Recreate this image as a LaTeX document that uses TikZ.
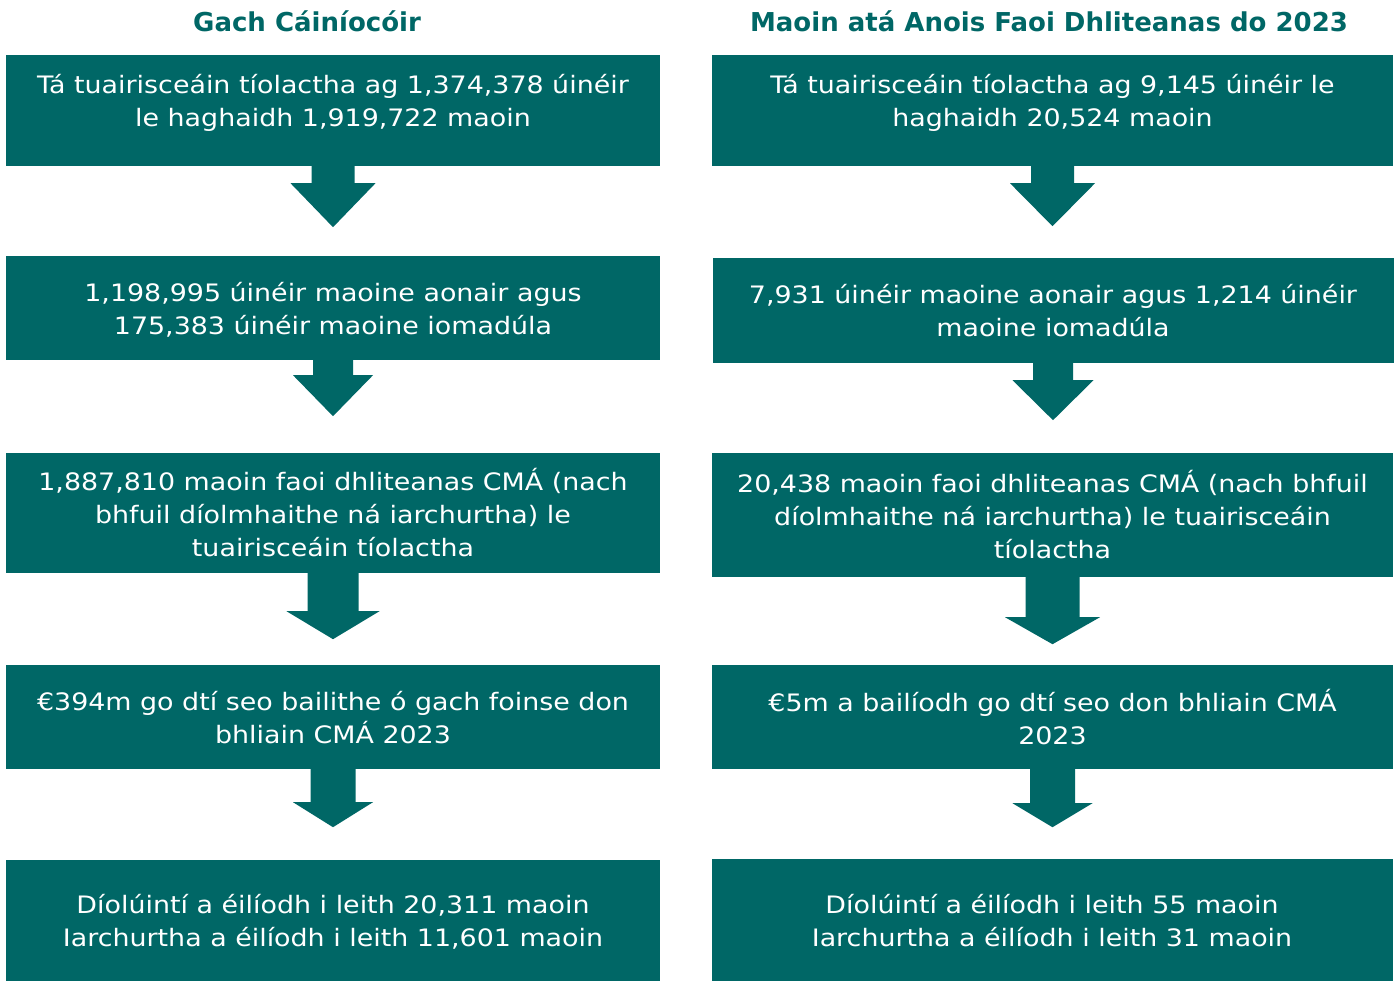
\documentclass[tikz,border=0pt]{standalone}
\usepackage{fontspec}
\setmainfont{DejaVu Sans}
\newfontfamily\bodyfont[FakeStretch=1.12]{DejaVu Sans}
\usepackage{xcolor}
\usepackage{tikz}
\usetikzlibrary{calc}
\definecolor{tealbox}{HTML}{006766}
\definecolor{bg}{HTML}{FFFFFF}
\tikzset{
  box/.style={fill=tealbox, text=white, align=center, inner sep=0pt,
    font=\bodyfont\fontsize{24}{33}\selectfont},
  boxl/.style={box, minimum width=654pt},
  boxr/.style={box, minimum width=681pt},
  toprow/.style={text depth=20pt},
  lowtext/.style={text depth=#1},
  head/.style={text=tealbox, font=\fontsize{26}{30}\selectfont\bfseries},
}
% block arrow below a box: box, half shaft, half head, head offset, tip offset
\newcommand{\blkarrow}[5]{%
  \fill[tealbox] ($(#1.south)+(-#2,0)$) -- ($(#1.south)+(-#2,#4)$)
    -- ($(#1.south)+(-#3,#4)$) -- ($(#1.south)+(0,#5)$)
    -- ($(#1.south)+(#3,#4)$) -- ($(#1.south)+(#2,#4)$)
    -- ($(#1.south)+(#2,0)$) -- cycle;}

\begin{document}
\begin{tikzpicture}[x=1pt, y=-1pt]
  \useasboundingbox[fill=bg] (0,0) rectangle (1400,982);
  % headings
  \node[head] (hl) at (307,21) {Gach Cáiníocóir};
  \node[head] (hr) at (1049,21) {Maoin atá Anois Faoi Dhliteanas do 2023};
  % left column
  \node[boxl, toprow, minimum height=111pt] (l1) at (333,110.5)
    {Tá tuairisceáin tíolactha ag 1,374,378 úinéir\\le haghaidh 1,919,722 maoin};
  \node[boxl, lowtext=-5pt, minimum height=104pt] (l2) at (333,308)
    {1,198,995 úinéir maoine aonair agus\\175,383 úinéir maoine iomadúla};
  \node[boxl, minimum height=120pt] (l3) at (333,513)
    {1,887,810 maoin faoi dhliteanas CMÁ (nach\\bhfuil díolmhaithe ná iarchurtha) le\\tuairisceáin tíolactha};
  \node[boxl, lowtext=-3pt, minimum height=104pt] (l4) at (333,717)
    {€394m go dtí seo bailithe ó gach foinse don\\bhliain CMÁ 2023};
  \node[boxl, lowtext=-7pt, minimum height=121pt] (l5) at (333,920.5)
    {Díolúintí a éilíodh i leith 20,311 maoin\\Iarchurtha a éilíodh i leith 11,601 maoin};
  % right column
  \node[boxr, toprow, minimum height=111pt] (r1) at (1052.5,110.5)
    {Tá tuairisceáin tíolactha ag 9,145 úinéir le\\haghaidh 20,524 maoin};
  \node[boxr, lowtext=-4pt, minimum height=105pt] (r2) at (1053,310.5)
    {7,931 úinéir maoine aonair agus 1,214 úinéir\\maoine iomadúla};
  \node[boxr, minimum height=124pt] (r3) at (1052.5,515)
    {20,438 maoin faoi dhliteanas CMÁ (nach bhfuil\\díolmhaithe ná iarchurtha) le tuairisceáin\\tíolactha};
  \node[boxr, minimum height=104pt] (r4) at (1052.5,717)
    {€5m a bailíodh go dtí seo don bhliain CMÁ\\2023};
  \node[boxr, lowtext=-7pt, minimum height=122pt] (r5) at (1052,920)
    {Díolúintí a éilíodh i leith 55 maoin\\Iarchurtha a éilíodh i leith 31 maoin};
  % arrows
  \blkarrow{l1}{21.5}{42.5}{17}{61}
  \blkarrow{l2}{20}{40}{15}{56}
  \blkarrow{l3}{25.5}{46.5}{38}{66}
  \blkarrow{l4}{22.5}{40}{33}{58}
  \blkarrow{r1}{21.5}{42.5}{17}{60}
  \blkarrow{r2}{20}{40.5}{17}{57}
  \blkarrow{r3}{27}{47.5}{40}{67}
  \blkarrow{r4}{22.5}{40}{34}{58}
\end{tikzpicture}
\end{document}
